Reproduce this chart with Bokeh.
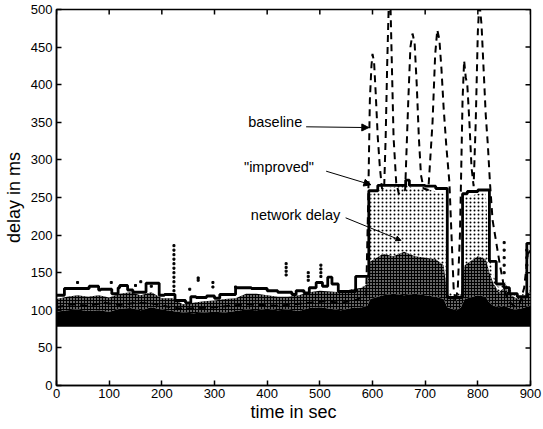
from math import pi
from bokeh.plotting import figure
from bokeh.models import FixedTicker, Range1d, Arrow, NormalHead
from bokeh.core.properties import value
from bokeh.embed import file_html
from bokeh.resources import INLINE

FONT = "Liberation Sans"

# ---------------- data ----------------
x_ticks = [0, 100, 200, 300, 400, 500, 600, 700, 800, 900]
y_ticks = [0, 50, 100, 150, 200, 250, 300, 350, 400, 450, 500]

# network delay: envelope of the dotted packet-delay trace
net_floor = 78
net_t = [0, 20, 40, 60, 80, 100, 120, 140, 160, 180, 200, 220, 240, 260, 280,
         300, 320, 340, 360, 380, 400, 420, 440, 460, 480, 500, 520, 540, 560, 580,
         590, 596, 620, 640, 660, 680, 700, 720, 735, 742, 750, 760, 768, 775,
         800, 815, 822, 830, 840, 850, 860, 870, 880, 890, 900]
net_dense = [98, 100, 101, 99, 100, 98, 102, 103, 100, 104, 101, 99, 97, 96, 97,
             98, 97, 99, 101, 100, 102, 100, 101, 99, 103, 104, 102, 100, 103, 104,
             106, 115, 120, 122, 120, 122, 120, 118, 115, 104, 102, 100, 104, 115,
             120, 118, 110, 106, 104, 106, 103, 101, 102, 104, 106]
net_mid = [115, 118, 120, 118, 120, 117, 122, 124, 120, 124, 116, 116, 108, 110, 112,
           113, 115, 116, 122, 122, 120, 118, 118, 120, 124, 126, 125, 124, 128, 130,
           135, 165, 175, 172, 178, 172, 170, 168, 160, 122, 116, 113, 122, 160,
           172, 168, 150, 135, 124, 130, 122, 117, 114, 118, 126]
net_top = [115, 118, 120, 118, 120, 117, 122, 124, 120, 124, 116, 116, 108, 110, 112,
           113, 115, 116, 122, 122, 120, 118, 118, 120, 124, 126, 125, 124, 128, 130,
           140, 255, 262, 264, 268, 262, 262, 258, 255, 130, 122, 118, 130, 250,
           255, 256, 175, 145, 130, 140, 128, 122, 118, 125, 135]

# isolated network-delay samples above the band
out_t = [40, 104, 160, 223, 223, 223, 223, 223, 223, 223, 223, 223, 223, 223,
         253, 269, 269, 297, 297, 340, 436, 436, 436, 436, 478, 478, 478,
         502, 502, 502, 502, 150, 180, 850, 850, 850, 850, 850, 893, 893, 893]
out_v = [137, 137, 138, 186, 180, 174, 168, 162, 156, 150, 144, 138, 132, 126,
         128, 143, 140, 137, 131, 131, 162, 157, 152, 147, 150, 145, 140,
         160, 155, 150, 145, 133, 132, 190, 180, 170, 160, 150, 180, 170, 160]

# baseline (dashed)
base_t = [0, 30, 60, 90, 120, 150, 180, 210, 240, 270, 300, 330, 360, 390, 420,
          450, 480, 510, 540, 570, 588, 592, 595, 598, 600, 603, 606, 610, 614,
          618, 622, 625, 628, 631, 634, 637, 640, 645, 650, 662, 668, 672, 676,
          680, 684, 688, 692, 697, 706, 714, 719, 723, 727, 731, 735, 740, 746,
          750, 754, 758, 762, 766, 768, 771, 774, 777, 780, 784, 788, 792, 796,
          800, 803, 807, 811, 815, 819, 823, 828, 835, 842, 850, 856, 862, 870,
          880, 888, 895, 900]
base_v = [104, 108, 106, 110, 107, 110, 109, 105, 102, 103, 104, 106, 108, 107, 106,
          108, 110, 112, 110, 114, 120, 250, 380, 425, 441, 430, 390, 330, 290,
          262, 260, 330, 430, 510, 510, 420, 330, 270, 255, 260, 380, 450, 468,
          455, 400, 330, 280, 262, 260, 350, 440, 473, 460, 420, 370, 320, 270,
          200, 130, 110, 130, 200, 270, 380, 432, 410, 400, 350, 290, 265, 350,
          470, 510, 480, 420, 360, 320, 270, 220, 190, 160, 130, 115, 110, 105,
          110, 130, 175, 180]

# "improved" (solid, stepped)
imp_t = [0, 15, 62, 80, 84, 105, 117, 120, 135, 145, 170, 195, 205, 225, 245,
         255, 265, 285, 300, 310, 340, 370, 400, 420, 447, 455, 470, 480, 493,
         505, 515, 523, 535, 568, 593, 610, 663, 670, 700, 720, 742, 771, 780,
         800, 822, 835, 850, 860, 875, 893, 900]
imp_v = [120, 129, 132, 127, 128, 122, 130, 133, 127, 124, 136, 120, 121, 113, 110,
         118, 117, 119, 116, 121, 130, 129, 126, 124, 121, 126, 123, 130, 137,
         132, 144, 135, 125, 145, 259, 266, 273, 266, 265, 262, 117, 255, 258,
         260, 165, 135, 130, 122, 118, 189, 189]

# annotations
ann_text = ["baseline", "\"improved\"", "network delay"]
ann_t = [364, 356, 369]
ann_v = [350, 290, 227]
arr_t0 = [474, 512, 549]
arr_v0 = [344, 285, 223]
arr_t1 = [593, 597, 654]
arr_v1 = [343, 267, 193]

# ---------------- figure ----------------
p = figure(width=543, height=429, output_backend="svg", toolbar_location=None,
           x_range=Range1d(0, 900), y_range=Range1d(0, 500),
           min_border_left=55, min_border_right=13, min_border_top=9,
           min_border_bottom=44)
p.background_fill_color = "white"
p.border_fill_color = "white"
p.grid.visible = False
p.outline_line_color = "black"
p.outline_line_width = 1.5

# network delay layers
p.varea(x=net_t, y1=net_floor, y2=net_dense, fill_color="black", fill_alpha=1.0)
p.varea(x=net_t, y1=net_dense, y2=net_mid, fill_color="black", fill_alpha=1.0,
        hatch_pattern="dot", hatch_color="white", hatch_scale=3, hatch_weight=2.1)
p.varea(x=net_t, y1=net_mid, y2=net_top, fill_color=None, fill_alpha=0,
        hatch_pattern="dot", hatch_color="black", hatch_scale=4, hatch_weight=2.6)
p.scatter(out_t, out_v, marker="square", size=2, color="black")

# baseline
p.line(base_t, base_v, line_color="black", line_width=2, line_dash="7 5")
# improved
p.step(imp_t, imp_v, mode="after", line_color="black", line_width=2.8)

# annotations
p.text(x=ann_t, y=ann_v, text=ann_text, text_font=value(FONT),
       text_font_size="14.5px", text_baseline="middle", text_align="left",
       text_color="black")
for i in range(3):
    size = 7 if i < 2 else 5
    head = NormalHead(size=size, fill_color="black", line_color="black")
    p.add_layout(Arrow(end=head, x_start=arr_t0[i], y_start=arr_v0[i],
                       x_end=arr_t1[i], y_end=arr_v1[i],
                       line_color="black", line_width=1))

# inward ticks on the top and right edges of the box
p.scatter(x=x_ticks, y=[y_ticks[-1]] * len(x_ticks), marker="dash", angle=pi / 2,
          size=10, line_color="black", line_width=1.5)
p.scatter(x=[x_ticks[-1]] * len(y_ticks), y=y_ticks, marker="dash",
          size=10, line_color="black", line_width=1.5)

# axes
xa = p.xaxis[0]
xa.ticker = FixedTicker(ticks=x_ticks)
ya = p.yaxis[0]
ya.ticker = FixedTicker(ticks=y_ticks)

for ax in [xa, ya]:
    ax.major_tick_in = 5
    ax.major_tick_out = 0
    ax.minor_tick_line_color = None
    ax.axis_line_color = "black"
    ax.axis_line_width = 1.5
    ax.major_tick_line_color = "black"
    ax.major_tick_line_width = 1.5
    ax.major_label_text_font = FONT
    ax.major_label_text_font_size = "13px"
    ax.major_label_text_color = "black"
    ax.axis_label_text_font = FONT
    ax.axis_label_text_font_size = "18px"
    ax.axis_label_text_font_style = "normal"
    ax.axis_label_text_color = "black"

xa.axis_label = "time in sec"
xa.major_label_standoff = 3
xa.axis_label_standoff = 1
ya.axis_label = "delay in ms"
ya.major_label_standoff = 4
ya.axis_label_standoff = 4

open("out.html", "w").write(file_html(p, INLINE))
